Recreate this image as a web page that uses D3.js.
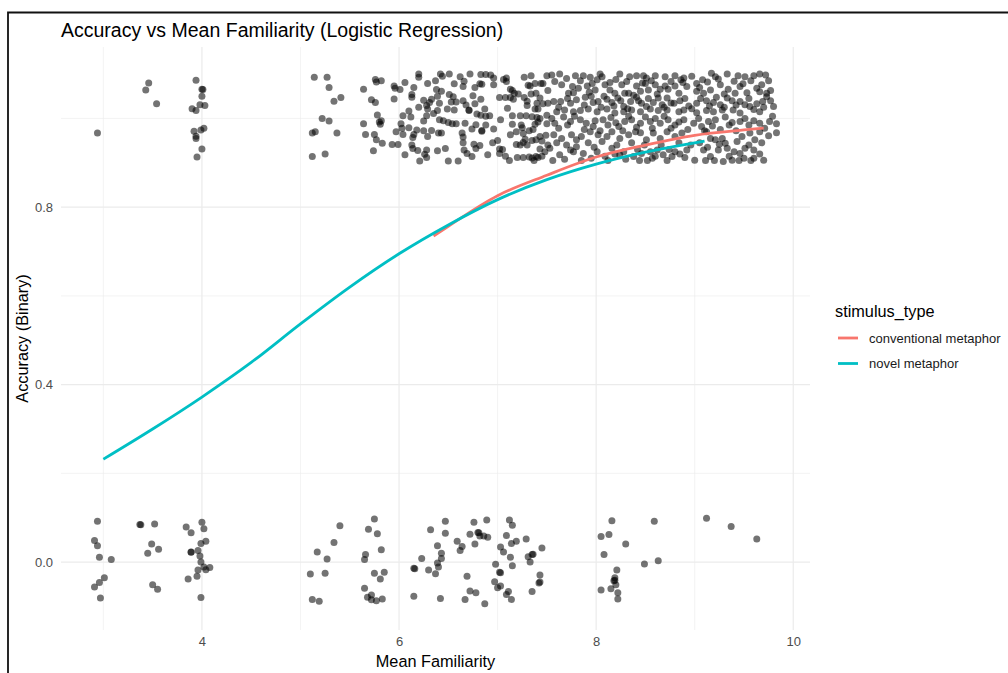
<!DOCTYPE html>
<html><head><meta charset="utf-8">
<script src="https://cdn.jsdelivr.net/npm/d3@7"></script>
<style>body{margin:0;background:#fff;} svg{display:block;font-family:"Liberation Sans",Arial,Helvetica,sans-serif;}</style>
</head><body><svg id="chart" width="1008" height="673"></svg>
<script>
const titleText = "Accuracy vs Mean Familiarity (Logistic Regression)";
const xTitle = "Mean Familiarity";
const yTitle = "Accuracy (Binary)";
const legendTitle = "stimulus_type";
const seriesNames = ["conventional metaphor", "novel metaphor"];
const seriesColors = ["#F8766D", "#00BFC4"];
const xTicks = [4, 6, 8, 10];
const xMinor = [3, 5, 7, 9];
const yTicks = [0.0, 0.4, 0.8];
const yTickLabels = ["0.0", "0.4", "0.8"];
const yMinor = [0.2, 0.6, 1.0];
const xDomain = [2.57, 10.17];
const yDomain = [-0.153, 1.161];

// fitted curves
const conventionalCurve = [[6.35,0.735],[6.5,0.757],[7,0.826],[7.5,0.872],[8,0.913],[8.5,0.94],[9,0.962],[9.5,0.974],[9.7,0.978]];
const novelCurve = [[3,0.232],[3.5,0.30],[4,0.372],[4.5,0.45],[5,0.537],[5.5,0.62],[6,0.695],[6.5,0.76],[7,0.817],[7.5,0.862],[8,0.897],[8.5,0.924],[9,0.945],[9.1,0.949]];

// jittered observations, accuracy = 0
const wrongLow = [[2.94,0.092],[3.37,0.085],[3.38,0.084],[3.52,0.086],[3.84,0.079],[4.00,0.090],[3.89,0.066],[4.02,0.075],[2.91,0.049],[2.94,0.037],[3.49,0.041],[3.56,0.029],[3.45,0.020],[3.99,0.042],[4.04,0.047],[3.89,0.023],[3.89,0.022],[3.96,0.026],[3.98,0.014],[2.96,0.011],[3.08,0.006],[3.99,0.000],[4.02,-0.011],[4.08,-0.012],[4.04,-0.017],[3.96,-0.018],[3.01,-0.035],[2.96,-0.046],[2.91,-0.056],[3.95,-0.032],[3.86,-0.038],[3.50,-0.051],[3.55,-0.061],[2.97,-0.081],[3.99,-0.080]];
const wrongMid = [[5.40,0.082],[5.75,0.097],[5.69,0.074],[5.78,0.064],[5.34,0.044],[5.17,0.023],[5.27,0.007],[5.66,0.017],[5.65,0.006],[5.82,0.028],[5.10,-0.027],[5.25,-0.025],[5.75,-0.025],[5.85,-0.023],[5.81,-0.038],[5.65,-0.059],[5.12,-0.084],[5.19,-0.088],[5.68,-0.079],[5.72,-0.074],[5.72,-0.085],[5.77,-0.087],[5.83,-0.083],
[6.32,0.073],[6.47,0.092],[6.47,0.065],[6.76,0.090],[6.89,0.095],[7.12,0.095],[7.15,0.083],[6.59,0.047],[6.64,0.035],[6.62,0.026],[6.39,0.037],[6.43,0.020],[6.43,0.008],[6.39,-0.002],[6.40,-0.011],[6.37,-0.026],[6.30,-0.018],[6.23,0.008],[6.15,-0.014],[6.16,-0.015],[6.15,-0.077],[6.42,-0.082],[6.72,0.063],[6.80,0.067],[6.81,0.066],[6.82,0.059],[6.86,0.059],[6.90,0.056],[6.77,0.041],[7.09,0.060],[7.14,0.042],[7.19,0.047],[7.29,0.052],[7.03,0.034],[7.06,0.023],[7.13,0.011],[6.98,-0.005],[7.15,-0.008],[7.02,-0.023],[7.03,-0.024],[6.69,-0.032],[6.97,-0.044],[7.03,-0.054],[7.00,-0.058],[6.72,-0.065],[6.78,-0.069],[7.11,-0.066],[7.09,-0.073],[7.14,-0.084],[6.67,-0.084],[6.87,-0.094],[7.35,0.017],[7.36,0.018],[7.31,0.012],[7.33,0.000],[7.45,0.032],[7.43,-0.029],[7.42,-0.047],[7.43,-0.045],[7.35,-0.066]];
const wrongHigh = [[8.16,0.093],[8.59,0.092],[8.05,0.058],[8.13,0.062],[8.30,0.041],[8.08,0.017],[8.49,-0.004],[8.63,0.003],[8.21,-0.018],[8.19,-0.035],[8.18,-0.042],[8.19,-0.041],[8.20,-0.051],[8.05,-0.063],[8.15,-0.060],[8.22,-0.069],[8.22,-0.083],[9.12,0.099],[9.37,0.080],[9.63,0.052]];

// jittered observations, accuracy = 1
const rightLow = [[2.94,0.967],[3.46,1.080],[3.43,1.064],[3.54,1.033],[3.94,1.086],[4.00,1.066],[4.01,1.065],[4.00,1.050],[3.98,1.031],[4.03,1.029],[3.90,1.022],[3.94,1.018],[3.92,0.971],[3.99,0.974],[4.02,0.978],[3.94,0.960],[3.94,0.955],[4.00,0.931],[3.95,0.913],
[5.14,1.093],[5.27,1.093],[5.29,1.070],[5.41,1.047],[5.34,1.039],[5.22,1.000],[5.29,0.994],[5.12,0.967],[5.15,0.970],[5.37,0.967],[5.12,0.914],[5.25,0.920]];
const rightMid = [[5.64,1.066],[5.76,1.088],[5.77,1.082],[5.82,1.085],[5.72,1.042],[5.76,1.036],[5.78,1.008],[5.80,0.992],[5.82,0.995],[5.81,0.987],[5.64,0.988],[5.66,0.964],[5.75,0.964],[5.77,0.952],[5.83,0.944],[5.93,0.941],[5.99,0.941],[5.74,0.927],[5.95,1.073],[5.96,1.068],[6.01,1.065],[6.06,1.081],[6.15,1.070],[6.20,1.100],[6.20,1.093],[6.29,1.079],[6.37,1.085],[6.42,1.100],[6.44,1.095],[6.51,1.100],[6.62,1.094],[6.56,1.078],[6.65,1.072],[6.66,1.084],[6.72,1.100],[6.77,1.070],[6.83,1.099],[6.88,1.099],[6.93,1.098],[6.82,1.078],[6.84,1.077],[6.96,1.076],[6.96,1.091],[5.95,1.044],[6.13,1.054],[6.13,1.048],[6.25,1.041],[6.38,1.065],[6.43,1.061],[6.39,1.050],[6.33,1.043],[6.31,1.036],[6.51,1.054],[6.55,1.049],[6.58,1.037],[6.53,1.037],[6.65,1.040],[6.75,1.051],[6.83,1.043],[6.20,1.025],[6.28,1.029],[6.29,1.021],[6.41,1.034],[6.39,1.018],[6.49,1.021],[6.56,1.019],[6.68,1.030],[6.71,1.018],[6.77,1.033],[6.87,1.021],[6.92,1.006],[6.04,1.006],[6.10,1.017],[6.12,1.003],[6.25,0.994],[6.28,1.006],[6.35,1.011],[6.41,0.997],[6.45,0.995],[6.50,0.991],[6.54,0.988],[6.58,0.988],[6.67,0.989],[6.71,1.019],[6.79,1.010],[6.83,1.007],[6.88,1.005],[6.88,0.985],[6.78,0.986],[6.96,0.976],[6.84,0.973],[6.74,0.976],[6.64,0.967],[6.43,0.967],[6.33,0.973],[6.25,0.972],[6.18,0.974],[6.10,0.979],[6.02,0.988],[6.03,0.978],[5.97,0.970],[6.04,0.964],[6.15,0.964],[6.14,0.957],[6.29,0.959],[6.40,0.967],[6.65,0.958],[6.65,0.945],[6.76,0.942],[6.84,0.971],[6.82,0.939],[6.78,0.932],[6.66,0.929],[6.69,0.921],[6.74,0.914],[6.47,0.932],[6.39,0.927],[6.28,0.929],[6.26,0.919],[6.28,0.912],[6.19,0.928],[6.13,0.940],[6.14,0.932],[6.06,0.918],[6.21,0.904],[6.50,0.904],[6.60,0.904],[7.03,0.997],[7.02,0.931],[7.05,0.930],[7.02,0.921],
[7.06,1.088],[7.09,1.091],[7.09,1.083],[7.13,1.066],[7.15,1.063],[7.17,1.057],[7.21,1.055],[7.27,1.093],[7.34,1.096],[7.31,1.075],[7.33,1.073],[7.38,1.079],[7.44,1.079],[7.46,1.079],[7.50,1.096],[7.51,1.063],[7.02,1.047],[7.08,1.047],[7.13,1.047],[7.16,1.043],[7.27,1.047],[7.30,1.039],[7.34,1.055],[7.39,1.057],[7.43,1.046],[7.40,1.034],[7.46,1.033],[7.51,1.034],[7.10,1.023],[7.30,1.029],[7.38,1.021],[7.41,1.021],[7.15,1.006],[7.23,1.006],[7.29,1.006],[7.35,1.004],[7.40,1.002],[7.43,1.000],[7.50,1.007],[7.15,0.987],[7.24,0.985],[7.25,0.979],[7.38,0.987],[7.41,0.992],[7.50,0.988],[7.13,0.963],[7.19,0.970],[7.26,0.966],[7.32,0.972],[7.36,0.975],[7.43,0.959],[7.45,0.949],[7.49,0.962],[7.28,0.953],[7.26,0.946],[7.35,0.950],[7.39,0.952],[7.30,0.940],[7.19,0.941],[7.23,0.940],[7.20,0.912],[7.26,0.912],[7.32,0.913],[7.35,0.911],[7.39,0.914],[7.41,0.912],[7.37,0.905],[7.43,0.931],[7.51,0.940],
[7.00,0.950],[7.08,0.915],[7.12,0.905],[7.45,0.915],[7.48,0.925],[6.95,0.945],[6.90,0.918]];
const rightHigh = [[7.55,1.098],[7.63,1.100],[7.79,1.096],[7.87,1.096],[7.94,1.093],[8.04,1.100],[8.06,1.094],[8.14,1.081],[8.24,1.100],[8.34,1.094],[8.41,1.096],[8.48,1.096],[8.51,1.091],[8.60,1.096],[8.70,1.094],[8.80,1.096],[8.89,1.091],[8.88,1.081],[9.02,1.079],[9.08,1.087],[9.17,1.102],[9.21,1.094],[9.33,1.100],[9.44,1.096],[9.51,1.094],[9.60,1.096],[9.66,1.100],[9.72,1.098],[9.68,1.076],[9.77,1.063],
[7.65,1.076],[7.72,1.057],[7.77,1.058],[7.82,1.068],[7.91,1.073],[7.96,1.079],[7.99,1.064],[8.09,1.076],[8.14,1.064],[8.19,1.057],[8.26,1.076],[8.29,1.057],[8.33,1.057],[8.41,1.073],[8.45,1.061],[8.50,1.079],[8.53,1.064],[8.60,1.076],[8.65,1.066],[8.70,1.073],[8.73,1.066],[8.80,1.073],[8.84,1.057],[8.92,1.072],[9.02,1.061],[9.09,1.057],[9.16,1.064],[9.26,1.076],[9.34,1.066],[9.41,1.057],[9.46,1.072],[9.53,1.058],[9.63,1.068],[9.73,1.057],
[7.57,1.038],[7.64,1.038],[7.74,1.034],[7.80,1.042],[7.89,1.048],[7.97,1.036],[8.02,1.038],[8.11,1.043],[8.16,1.036],[8.22,1.046],[8.28,1.027],[8.35,1.038],[8.41,1.048],[8.46,1.034],[8.51,1.027],[8.58,1.036],[8.63,1.046],[8.67,1.031],[8.72,1.046],[8.79,1.034],[8.85,1.040],[8.94,1.028],[9.02,1.034],[9.12,1.040],[9.19,1.036],[9.26,1.031],[9.33,1.046],[9.38,1.040],[9.46,1.038],[9.51,1.031],[9.56,1.027],[9.63,1.033],[9.69,1.038],[9.73,1.049],[9.80,1.027],[9.66,1.015],[9.46,1.012],[9.39,1.019],[9.28,1.019],[9.19,1.015],[9.12,1.018],[9.02,1.013],[8.89,1.019],[8.84,1.015],[8.72,1.019],[8.63,1.018],[8.55,1.021],[8.45,1.015],[8.36,1.019],[8.28,1.015],[8.19,1.012],[8.11,1.021],[8.01,1.015],[7.92,1.021],[7.84,1.018],[7.77,1.015],[7.68,1.019],[7.60,1.015],
[7.58,0.989],[7.67,1.003],[7.74,0.993],[7.84,0.997],[7.90,0.989],[7.97,0.982],[8.07,0.997],[8.12,0.985],[8.23,0.982],[8.29,0.993],[8.36,0.997],[8.45,0.989],[8.55,0.993],[8.60,1.000],[8.65,0.989],[8.73,0.997],[8.80,0.985],[8.89,0.997],[8.99,0.989],[9.07,0.982],[9.14,0.993],[9.21,0.997],[9.31,1.003],[9.38,0.991],[9.46,0.993],[9.51,1.000],[9.60,0.995],[9.66,0.989],[9.76,0.993],[9.83,0.988],[9.83,0.968],[9.75,0.961],[9.66,0.970],
[7.57,0.963],[7.65,0.955],[7.75,0.963],[7.80,0.952],[7.85,0.959],[7.94,0.970],[8.02,0.963],[8.11,0.959],[8.16,0.970],[8.24,0.955],[8.33,0.963],[8.40,0.970],[8.45,0.968],[8.51,0.952],[8.58,0.967],[8.65,0.955],[8.72,0.970],[8.80,0.959],[8.87,0.967],[9.12,0.970],[9.16,0.955],[9.21,0.952],[9.28,0.955],[9.31,0.944],[9.33,0.933],[9.43,0.948],[9.48,0.959],[9.56,0.967],[9.61,0.952],
[7.53,0.933],[7.63,0.918],[7.74,0.929],[7.80,0.936],[7.87,0.921],[8.01,0.925],[8.16,0.933],[8.24,0.918],[8.38,0.914],[8.46,0.921],[8.55,0.925],[8.62,0.929],[8.68,0.918],[8.77,0.914],[8.80,0.925],[8.92,0.929],[9.00,0.906],[9.09,0.929],[9.16,0.914],[9.24,0.929],[9.29,0.903],[9.38,0.906],[9.46,0.921],[9.50,0.910],[9.60,0.910],[9.70,0.906],[9.60,0.929],[9.51,0.933]];
const rightDense = [[7.58,1.083],[7.70,1.090],[7.76,1.072],[7.84,1.085],[7.93,1.059],[8.01,1.087],[8.08,1.050],[8.20,1.088],[8.31,1.083],[8.38,1.052],[8.47,1.080],[8.56,1.085],[8.62,1.055],[8.76,1.083],[8.86,1.087],[8.97,1.095],[9.05,1.070],[9.13,1.082],[9.24,1.089],[9.30,1.055],[9.40,1.084],[9.49,1.078],[9.57,1.085],[9.66,1.060],[9.75,1.085],
[7.62,1.025],[7.71,1.045],[7.88,1.030],[7.95,1.050],[8.05,1.025],[8.18,1.028],[8.25,1.040],[8.32,1.022],[8.43,1.040],[8.53,1.045],[8.69,1.025],[8.76,1.035],[8.90,1.045],[8.97,1.022],[9.06,1.045],[9.15,1.028],[9.22,1.048],[9.30,1.025],[9.42,1.030],[9.55,1.045],[9.60,1.020],[9.70,1.025],[9.77,1.040],
[7.55,1.000],[7.62,0.978],[7.71,0.985],[7.78,1.005],[7.88,0.975],[7.99,0.995],[8.04,0.972],[8.15,1.002],[8.20,0.990],[8.27,0.972],[8.33,1.005],[8.41,0.980],[8.50,1.003],[8.57,0.978],[8.69,1.005],[8.76,0.978],[8.84,0.992],[8.93,0.975],[9.04,1.000],[9.10,0.972],[9.18,0.983],[9.26,0.975],[9.35,0.985],[9.42,0.972],[9.55,0.985],[9.71,0.978],[9.79,1.005],
[7.60,0.945],[7.70,0.940],[7.77,0.925],[7.92,0.945],[7.98,0.935],[8.06,0.948],[8.09,0.915],[8.21,0.940],[8.28,0.925],[8.30,0.908],[8.36,0.945],[8.42,0.930],[8.49,0.940],[8.52,0.905],[8.60,0.915],[8.66,0.940],[8.74,0.930],[8.84,0.945],[8.90,0.912],[8.96,0.940],[9.05,0.945],[9.13,0.935],[9.20,0.905],[9.25,0.942],[9.35,0.915],[9.40,0.925],[9.45,0.905],[9.55,0.940],[9.66,0.920],[9.68,0.945],
[7.56,0.905],[7.68,0.908],[7.85,0.905],[7.95,0.910],[8.12,0.905],[8.19,0.920],[8.44,0.905],[8.57,0.910],[8.72,0.905],[8.85,0.920],[9.11,0.905],[9.57,0.905]];

const W = 1008, H = 673;
const svg = d3.select("#chart");
const x = d3.scaleLinear().domain(xDomain).range([61, 810]);
const y = d3.scaleLinear().domain(yDomain).range([630, 47]);
const color = d3.scaleOrdinal().domain(seriesNames).range(seriesColors);

// frame
svg.append("path").attr("d", `M8,${H + 5}V12.5H${W + 5}`).attr("fill", "none").attr("stroke", "#111").attr("stroke-width", 1.8);

// grid
const grid = svg.append("g");
grid.selectAll(".xminor").data(xMinor).join("line").attr("x1", d => x(d)).attr("x2", d => x(d)).attr("y1", y.range()[0]).attr("y2", y.range()[1]).attr("stroke", "#ebebeb").attr("stroke-width", 0.6);
grid.selectAll(".yminor").data(yMinor).join("line").attr("y1", d => y(d)).attr("y2", d => y(d)).attr("x1", x.range()[0]).attr("x2", x.range()[1]).attr("stroke", "#ebebeb").attr("stroke-width", 0.6);
grid.selectAll(".xmajor").data(xTicks).join("line").attr("x1", d => x(d)).attr("x2", d => x(d)).attr("y1", y.range()[0]).attr("y2", y.range()[1]).attr("stroke", "#ebebeb").attr("stroke-width", 1.2);
grid.selectAll(".ymajor").data(yTicks).join("line").attr("y1", d => y(d)).attr("y2", d => y(d)).attr("x1", x.range()[0]).attr("x2", x.range()[1]).attr("stroke", "#ebebeb").attr("stroke-width", 1.2);

// points
const allPoints = [].concat(wrongLow, wrongMid, wrongHigh, rightLow, rightMid, rightHigh, rightDense);
svg.append("g").selectAll("circle").data(allPoints).join("circle")
  .attr("cx", d => x(d[0])).attr("cy", d => y(d[1])).attr("r", 3.5)
  .attr("fill", "#000").attr("fill-opacity", 0.55);

// fitted curves
const line = d3.line().x(d => x(d[0])).y(d => y(d[1])).curve(d3.curveMonotoneX);
const curves = [conventionalCurve, novelCurve];
svg.append("g").selectAll("path").data(curves).join("path")
  .attr("d", line).attr("fill", "none")
  .attr("stroke", (d, i) => color(seriesNames[i])).attr("stroke-width", 2.8);

// axes
const xAxis = svg.append("g").attr("transform", `translate(0,${y.range()[0]})`)
  .call(d3.axisBottom(x).tickValues(xTicks).tickSize(0).tickPadding(7).tickFormat(d3.format("d")));
xAxis.select(".domain").remove();
xAxis.selectAll("text").attr("fill", "#4d4d4d").attr("font-size", 13).attr("font-family", "Liberation Sans, Arial, sans-serif");
const yAxis = svg.append("g").attr("transform", `translate(${x.range()[0]},0)`)
  .call(d3.axisLeft(y).tickValues(yTicks).tickSize(0).tickPadding(8).tickFormat((d, i) => yTickLabels[i]));
yAxis.select(".domain").remove();
yAxis.selectAll("text").attr("fill", "#4d4d4d").attr("font-size", 13).attr("font-family", "Liberation Sans, Arial, sans-serif");

// titles
svg.append("text").attr("x", 61).attr("y", 37).attr("font-size", 19.5).attr("fill", "#000").text(titleText);
svg.append("text").attr("x", (x.range()[0] + x.range()[1]) / 2).attr("y", 667).attr("text-anchor", "middle").attr("font-size", 16.3).attr("fill", "#000").text(xTitle);
svg.append("text").attr("transform", `translate(28,${(y.range()[0] + y.range()[1]) / 2}) rotate(-90)`).attr("text-anchor", "middle").attr("font-size", 16.3).attr("fill", "#000").text(yTitle);

// legend
const lg = svg.append("g").attr("transform", "translate(835,0)");
lg.append("text").attr("x", 0).attr("y", 316.5).attr("font-size", 16.3).attr("fill", "#000").text(legendTitle);
const items = lg.selectAll(".item").data(seriesNames).join("g").attr("transform", (d, i) => `translate(0,${338 + i * 25.5})`);
items.append("line").attr("x1", 3).attr("x2", 23).attr("y1", 0).attr("y2", 0).attr("stroke", d => color(d)).attr("stroke-width", 2.8);
items.append("text").attr("x", 34).attr("y", 0).attr("dy", "0.35em").attr("font-size", 13).attr("fill", "#1a1a1a").text(d => d);
</script></body></html>
